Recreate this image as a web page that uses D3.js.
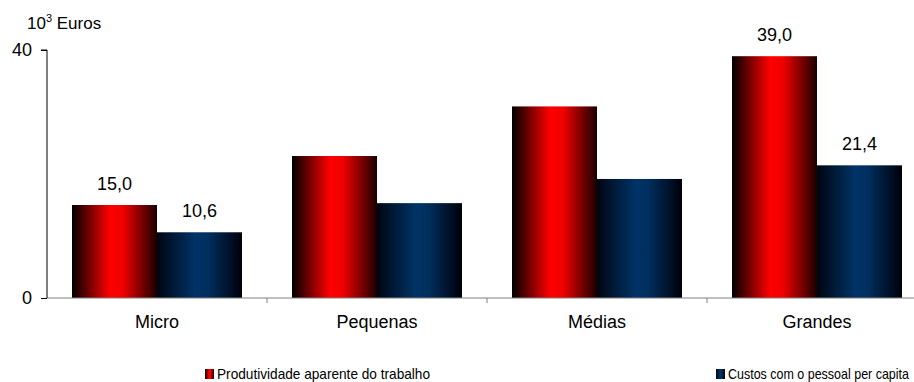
<!DOCTYPE html>
<html>
<head>
<meta charset="utf-8">
<script src="https://cdn.jsdelivr.net/npm/d3@7"></script>
<style>
  body { margin: 0; background: #fff; }
  text { font-family: "Liberation Sans", Arial, sans-serif; fill: #000; }
</style>
</head>
<body>
<div id="chart"></div>
<script>
var categories = ["Micro", "Pequenas", "Médias", "Grandes"];
var seriesNames = ["Produtividade aparente do trabalho", "Custos com o pessoal per capita"];
var produtividade = [15.0, 22.9, 30.9, 39.0];
var custos = [10.6, 15.3, 19.2, 21.4];
// only these get a value label in the original
var labelled = ["Micro", "Grandes"];
var yTicks = [0, 40];

function init() {
    var w = 914;
    var h = 382;

    var svg = d3.select("#chart")
                .append("svg")
                .attr("width", w)
                .attr("height", h);

    // gradients for the bars
    var defs = svg.append("defs");
    var red = defs.append("linearGradient").attr("id", "gRed");
    red.append("stop").attr("offset", "0%").attr("stop-color", "#000000");
    red.append("stop").attr("offset", "45%").attr("stop-color", "#ff0000");
    red.append("stop").attr("offset", "60%").attr("stop-color", "#f00000");
    red.append("stop").attr("offset", "100%").attr("stop-color", "#1a0000");

    var blue = defs.append("linearGradient").attr("id", "gBlue");
    blue.append("stop").attr("offset", "0%").attr("stop-color", "#000510");
    blue.append("stop").attr("offset", "45%").attr("stop-color", "#003366");
    blue.append("stop").attr("offset", "60%").attr("stop-color", "#002f5e");
    blue.append("stop").attr("offset", "100%").attr("stop-color", "#00000a");

    var x = d3.scaleBand()
              .domain(categories)
              .range([47, 927]);

    var inner = d3.scaleBand()
                  .domain([0, 1])
                  .range([25, x.bandwidth() - 25]);

    var y = d3.scaleLinear()
              .domain([0, 40])
              .range([298, 50]);

    var data = categories.map(function(c, i) {
        return { cat: c, values: [produtividade[i], custos[i]] };
    });

    var fills = ["url(#gRed)", "url(#gBlue)"];

    var groups = svg.selectAll("g.cat")
                    .data(data)
                    .enter()
                    .append("g")
                    .attr("class", "cat")
                    .attr("transform", function(d) { return "translate(" + x(d.cat) + ",0)"; });

    groups.selectAll("rect")
          .data(function(d) { return d.values; })
          .enter()
          .append("rect")
          .attr("x", function(d, i) { return inner(i); })
          .attr("y", function(d) { return y(d); })
          .attr("width", inner.bandwidth())
          .attr("height", function(d) { return y(0) - y(d); })
          .style("fill", function(d, i) { return fills[i]; });

    // value labels
    groups.filter(function(d) { return labelled.indexOf(d.cat) >= 0; })
          .selectAll("text.val")
          .data(function(d) { return d.values; })
          .enter()
          .append("text")
          .attr("class", "val")
          .attr("x", function(d, i) { return inner(i) + inner.bandwidth() / 2; })
          .attr("y", function(d) { return y(d) - 15; })
          .attr("text-anchor", "middle")
          .style("font-size", "18px")
          .text(function(d) { return d3.format(".1f")(d).replace(".", ","); });

    // x axis
    var xAxis = svg.append("g");
    xAxis.append("line")
         .attr("x1", 47).attr("x2", 927)
         .attr("y1", y(0)).attr("y2", y(0))
         .style("stroke", "#808080");
    xAxis.selectAll("line.tick")
         .data(categories.slice(1))
         .enter()
         .append("line")
         .attr("x1", function(d) { return x(d); })
         .attr("x2", function(d) { return x(d); })
         .attr("y1", y(0)).attr("y2", y(0) + 5)
         .style("stroke", "#808080");
    xAxis.selectAll("text")
         .data(categories)
         .enter()
         .append("text")
         .attr("x", function(d) { return x(d) + x.bandwidth() / 2; })
         .attr("y", 328)
         .attr("text-anchor", "middle")
         .style("font-size", "18px")
         .text(function(d) { return d; });

    // y axis
    var yAxis = svg.append("g")
                   .attr("transform", "translate(47,0)")
                   .call(d3.axisLeft(y).tickValues(yTicks).tickSize(6).tickPadding(9));
    yAxis.select(".domain").attr("d", "M-6," + y(40) + "H0V" + y(0)).style("stroke", "#000");
    yAxis.selectAll(".tick line").style("stroke", "#000");
    yAxis.selectAll(".tick text")
         .style("font-size", "18px")
         .style("font-family", "'Liberation Sans', Arial, sans-serif");

    // unit label
    var unit = svg.append("text")
                  .attr("x", 27)
                  .attr("y", 29)
                  .style("font-size", "17px");
    unit.append("tspan").text("10");
    unit.append("tspan").attr("dy", -7).style("font-size", "11px").text("3");
    unit.append("tspan").attr("dy", 7).text(" Euros");

    // legend
    var legendX = [205, 716];
    var legendWidths = [213, 181];
    var legendColors = ["url(#gRed)", "url(#gBlue)"];
    var legend = svg.selectAll("g.legend")
                    .data(seriesNames)
                    .enter()
                    .append("g")
                    .attr("class", "legend")
                    .attr("transform", function(d, i) { return "translate(" + legendX[i] + ",0)"; });
    legend.append("rect")
          .attr("x", 0).attr("y", 369)
          .attr("width", 9).attr("height", 10)
          .style("fill", function(d, i) { return legendColors[i]; });
    legend.append("text")
          .attr("x", 12)
          .attr("y", 379)
          .attr("textLength", function(d, i) { return legendWidths[i]; })
          .attr("lengthAdjust", "spacingAndGlyphs")
          .style("font-size", "15px")
          .text(function(d) { return d; });
}

window.onload = init;
</script>
</body>
</html>
